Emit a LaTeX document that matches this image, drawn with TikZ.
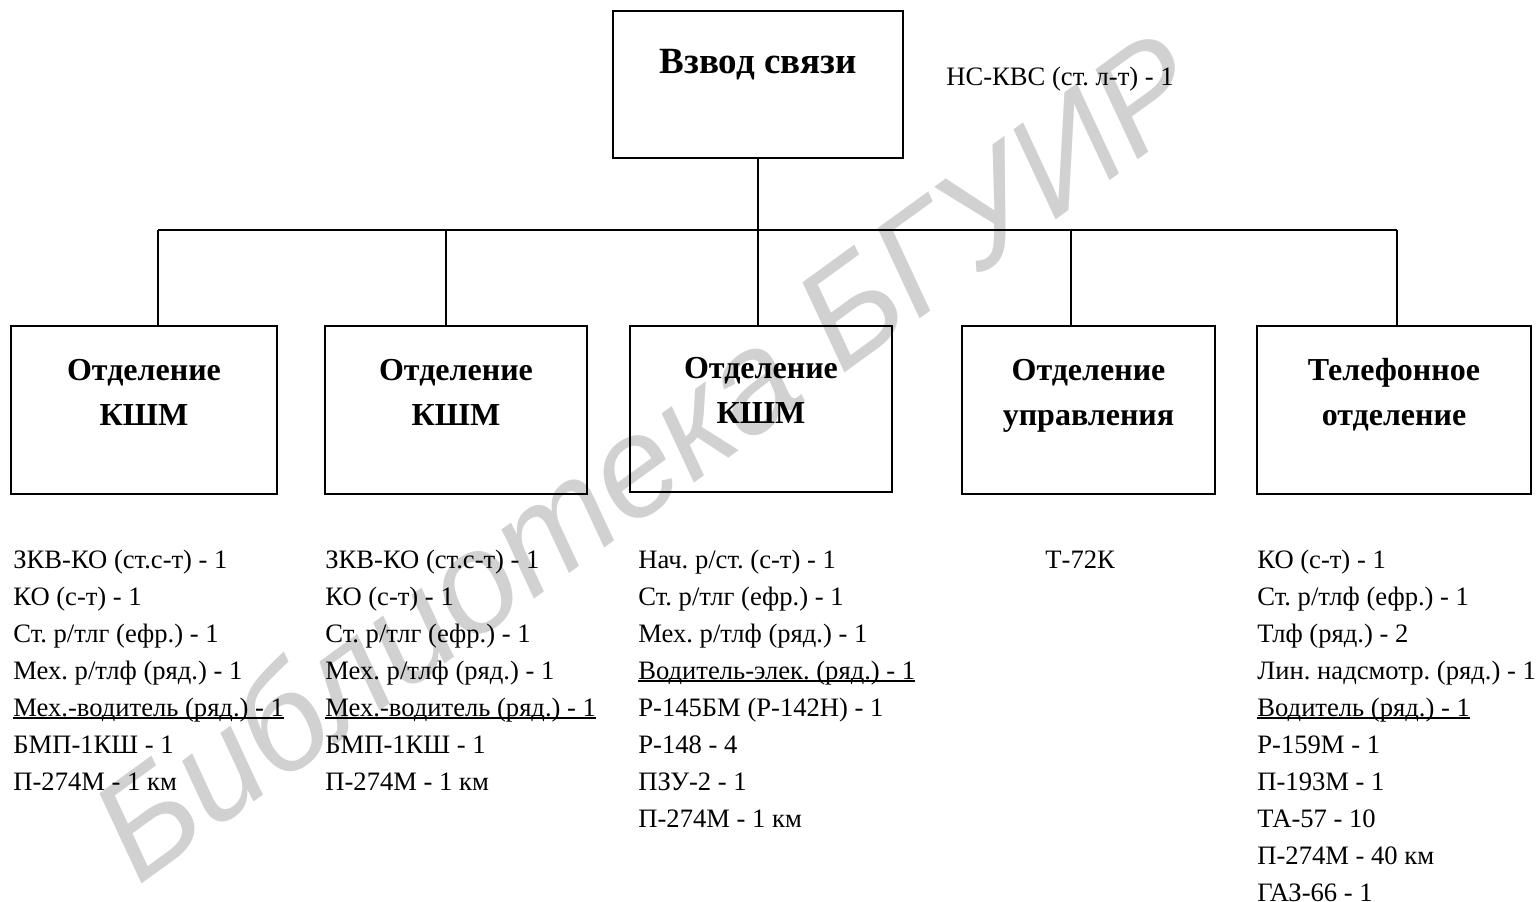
\documentclass[tikz,border=0pt]{standalone}
\usepackage{fontspec}
\setmainfont{Liberation Serif}
\newfontfamily\wmfont{Liberation Sans}
\newcommand\myul[1]{\setbox0\hbox{#1}\rlap{\rule[-1.7pt]{\wd0}{1pt}}\box0}
\frenchspacing
\begin{document}
\begin{tikzpicture}[x=0.5pt,y=-0.5pt,
  box/.style={draw,line width=1pt,inner sep=0pt,outer sep=0pt},
  conn/.style={line width=0.8pt},
  head/.style={inner sep=0pt,anchor=base,font=\fontsize{16}{22.5}\selectfont\bfseries},
  lst/.style={inner sep=0pt,anchor=base west,font=\fontsize{13.3}{18.5}\selectfont}]
\useasboundingbox (0,0) rectangle (1537,901);
% watermark
\node[inner sep=0pt,rotate=36,text=black!18,font=\fontsize{71}{80}\selectfont\wmfont\itshape] (wm) at (645,455) {Библиотека БГУИР};
% boxes
\node[box,minimum width=145pt,minimum height=73.5pt] (top) at (758,84.5) {};
\node[box,minimum width=133pt,minimum height=84pt] (b1) at (144,410) {};
\node[box,minimum width=131pt,minimum height=84pt] (b2) at (456,410) {};
\node[box,minimum width=131pt,minimum height=83pt] (b3) at (761,409) {};
\node[box,minimum width=126.5pt,minimum height=84pt] (b4) at (1088.5,410) {};
\node[box,minimum width=137pt,minimum height=84pt] (b5) at (1394,410) {};
% headings
\node[inner sep=0pt,anchor=base,font=\fontsize{18.5}{22}\selectfont\bfseries] (t0) at (758,73) {Взвод связи};
\node[head] (t1) at (144,380) {\begin{tabular}[t]{@{}c@{}}Отделение\\КШМ\end{tabular}};
\node[head] (t2) at (456,380) {\begin{tabular}[t]{@{}c@{}}Отделение\\КШМ\end{tabular}};
\node[head] (t3) at (761,378) {\begin{tabular}[t]{@{}c@{}}Отделение\\КШМ\end{tabular}};
\node[head] (t4) at (1088.5,380) {\begin{tabular}[t]{@{}c@{}}Отделение\\управления\end{tabular}};
\node[head] (t5) at (1394,380) {\begin{tabular}[t]{@{}c@{}}Телефонное\\отделение\end{tabular}};
% commander
\node[lst] (ns) at (946,85) {НС-КВС (ст. л-т) - 1};
% connectors
\coordinate (j) at (758,230);
\coordinate (c1) at (158,230);
\coordinate (c2) at (446,230);
\coordinate (c4) at (1071,230);
\coordinate (c5) at (1397,230);
\draw[conn] (top.south) -- (j);
\draw[conn] (c1) -- (c5);
\draw[conn] (c1) -- (c1 |- b1.north);
\draw[conn] (c2) -- (c2 |- b2.north);
\draw[conn] (j) -- (j |- b3.north);
\draw[conn] (c4) -- (c4 |- b4.north);
\draw[conn] (c5) -- (c5 |- b5.north);
% lists
\node[lst] (l1) at (13,568) {\begin{tabular}[t]{@{}l@{}}ЗКВ-КО (ст.с-т) - 1\\КО (с-т) - 1\\Ст. р/тлг (ефр.) - 1\\Мех. р/тлф (ряд.) - 1\\\myul{Мех.-водитель (ряд.) - 1}\\БМП-1КШ - 1\\П-274М - 1 км\end{tabular}};
\node[lst] (l2) at (325,568) {\begin{tabular}[t]{@{}l@{}}ЗКВ-КО (ст.с-т) - 1\\КО (с-т) - 1\\Ст. р/тлг (ефр.) - 1\\Мех. р/тлф (ряд.) - 1\\\myul{Мех.-водитель (ряд.) - 1}\\БМП-1КШ - 1\\П-274М - 1 км\end{tabular}};
\node[lst] (l3) at (638,568) {\begin{tabular}[t]{@{}l@{}}Нач. р/ст. (с-т) - 1\\Ст. р/тлг (ефр.) - 1\\Мех. р/тлф (ряд.) - 1\\\myul{Водитель-элек. (ряд.) - 1}\\Р-145БМ (Р-142Н) - 1\\Р-148 - 4\\ПЗУ-2 - 1\\П-274М - 1 км\end{tabular}};
\node[lst] (l4) at (1045,568) {Т-72К};
\node[lst] (l5) at (1257,568) {\begin{tabular}[t]{@{}l@{}}КО (с-т) - 1\\Ст. р/тлф (ефр.) - 1\\Тлф (ряд.) - 2\\Лин. надсмотр. (ряд.) - 1\\\myul{Водитель (ряд.) - 1}\\Р-159М - 1\\П-193М - 1\\ТА-57 - 10\\П-274М - 40 км\\ГАЗ-66 - 1\end{tabular}};
\end{tikzpicture}
\end{document}
